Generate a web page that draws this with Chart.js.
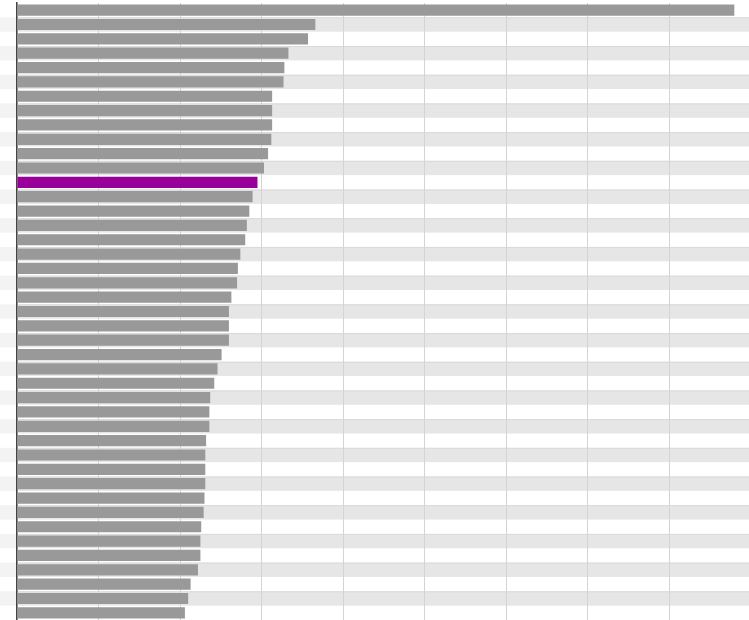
<!DOCTYPE html>
<html>
<head>
<meta charset="utf-8">
<script src="https://cdn.jsdelivr.net/npm/chart.js@4/dist/chart.umd.min.js"></script>
<style>
  html, body { margin: 0; padding: 0; background: #fff; }
  #wrap { width: 749px; height: 620px; position: relative; }
</style>
</head>
<body>
<div id="wrap"><canvas id="bars"></canvas></div>
<script>
// ── Data ─────────────────────────────────────────────────────
const categories = Array.from({ length: 43 }, (_, i) => "Item " + (i + 1));
const values = [
    8.80, 3.66, 3.57, 3.33, 3.28, 3.27, 3.13, 3.13, 3.13, 3.12,
    3.08, 3.03, 2.95, 2.89, 2.85, 2.82, 2.80, 2.74, 2.71, 2.70,
    2.63, 2.60, 2.60, 2.60, 2.51, 2.46, 2.42, 2.37, 2.36, 2.36,
    2.32, 2.31, 2.31, 2.31, 2.30, 2.29, 2.26, 2.25, 2.25, 2.22,
    2.13, 2.10, 2.06
];
const highlightIndex = 12;
const xTicks = [0, 1, 2, 3, 4, 5, 6, 7, 8];

// ── Colours ──────────────────────────────────────────────────
const barGrey = "#999999";
const barPurple = "#990099";
const barColors = values.map((v, i) => i === highlightIndex ? barPurple : barGrey);

// ── Row stripes plugin ───────────────────────────────────────
const stripes = {
    id: "stripes",
    beforeDraw(chart) {
        const { ctx, chartArea, scales } = chart;
        const y = scales.y;
        const half = (y.getPixelForValue(1) - y.getPixelForValue(0)) / 2;
        ctx.save();
        categories.forEach((c, i) => {
            if (i % 2 === 0) return;
            const top = y.getPixelForValue(i) - half;
            ctx.fillStyle = "#f3f3f3";
            ctx.fillRect(0, top, chartArea.left, half * 2);
            ctx.fillStyle = "#e6e6e6";
            ctx.fillRect(chartArea.left, top, chart.width - chartArea.left, half * 2);
            ctx.fillStyle = "#d9d9d9";
            ctx.fillRect(chartArea.left, top, chart.width - chartArea.left, 1);
        });
        ctx.restore();
    }
};

new Chart(document.getElementById("bars"), {
    type: "bar",
    data: {
        labels: categories,
        datasets: [{
            data: values,
            backgroundColor: barColors,
            borderWidth: 0,
            barPercentage: 0.78,
            categoryPercentage: 1
        }]
    },
    options: {
        indexAxis: "y",
        responsive: true,
        maintainAspectRatio: false,
        animation: false,
        devicePixelRatio: 1,
        layout: { padding: { left: 17, top: 3, bottom: 0, right: 0 } },
        plugins: {
            legend: { display: false },
            tooltip: { enabled: false }
        },
        scales: {
            x: {
                min: 0,
                max: 8.98,
                afterBuildTicks: axis => { axis.ticks = xTicks.map(v => ({ value: v })); },
                ticks: { display: false },
                grid: { color: "#d4d4d4", lineWidth: 1, drawTicks: false },
                border: { display: false }
            },
            y: {
                ticks: { display: false },
                grid: { display: false, drawTicks: false },
                border: { display: true, color: "#444444", width: 1.5 }
            }
        }
    },
    plugins: [stripes]
});
</script>
</body>
</html>
